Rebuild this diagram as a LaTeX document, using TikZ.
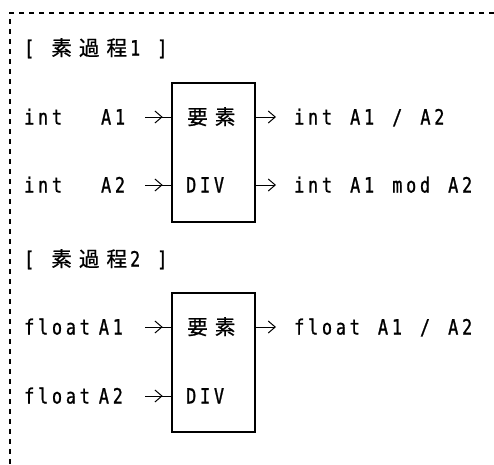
\documentclass[tikz,border=0pt]{standalone}
\usepackage{fontspec}
\setmainfont{DejaVu Sans Mono}[FakeStretch=0.8, FakeBold=1, LetterSpace=18, WordSpace=1.3]
\newfontfamily\jp{Noto Sans CJK JP}[LetterSpace=34, FakeBold=0.8]
\usetikzlibrary{arrows.meta,decorations.markings}
\tikzset{
  txt/.style={inner sep=0pt, text height=15pt, text depth=0pt, anchor=west,
    font=\fontsize{21}{24}\selectfont},
  jptxt/.style={txt, font=\fontsize{20.6}{24}\selectfont\jp},
  boxst/.style={draw, line width=1.8pt, minimum width=83pt, minimum height=139pt,
    inner sep=0pt, anchor=north west},
  conn/.style={line width=1pt},
  inarr/.style={conn, postaction={decorate},
    decoration={markings, mark=at position 0.68 with {\arrow{>}}}},
  outarr/.style={conn, ->},
  border/.style={line width=1.5pt, dash pattern=on 5pt off 5pt}
}
\begin{document}
\begin{tikzpicture}[x=1pt, y=-1pt, >={Straight Barb[length=7pt,width=12pt]}]
\useasboundingbox (0,0) rectangle (494,464);
% outer dashed frame
\draw[border] (494,13) -- (10,13) -- (10,464);

% ---- part 1
\node[txt] (t1) at (24,48) {[\hspace{17pt}{\fontsize{20.6}{24}\jp 素過程}\hspace{3pt}1\hspace{17pt}]};
\node[boxst] (box1) at (171,82) {};
\node[jptxt] (e1) at (187,117) {要素};
\node[txt] (d1) at (186,185) {DIV};
\node[txt] (ia1) at (24,117) {int\hspace{39pt}A1};
\node[txt] (ia2) at (24,185) {int\hspace{39pt}A2};
\node[txt] (o1) at (294,117) {int A1 / A2};
\node[txt] (o2) at (294,185) {int A1 mod A2};
\coordinate (s1) at (145,117);
\coordinate (s2) at (145,185);
\draw[inarr] (s1) -- (s1 -| box1.west);
\draw[inarr] (s2) -- (s2 -| box1.west);
\draw[outarr] (o1.west -| box1.east) -- ([xshift=-18pt]o1.west);
\draw[outarr] (o2.west -| box1.east) -- ([xshift=-18pt]o2.west);

% ---- part 2
\node[txt] (t2) at (24,259) {[\hspace{17pt}{\fontsize{20.6}{24}\jp 素過程}\hspace{3pt}2\hspace{17pt}]};
\node[boxst] (box2) at (171,292) {};
\node[jptxt] (e2) at (187,327) {要素};
\node[txt] (d2) at (186,396) {DIV};
\node[txt] (fa1) at (24,327) {float\hspace{9pt}A1};
\node[txt] (fa2) at (24,396) {float\hspace{9pt}A2};
\node[txt] (o3) at (294,327) {float A1 / A2};
\coordinate (s3) at (145,327);
\coordinate (s4) at (145,396);
\draw[inarr] (s3) -- (s3 -| box2.west);
\draw[inarr] (s4) -- (s4 -| box2.west);
\draw[outarr] (o3.west -| box2.east) -- ([xshift=-18pt]o3.west);
\end{tikzpicture}
\end{document}
